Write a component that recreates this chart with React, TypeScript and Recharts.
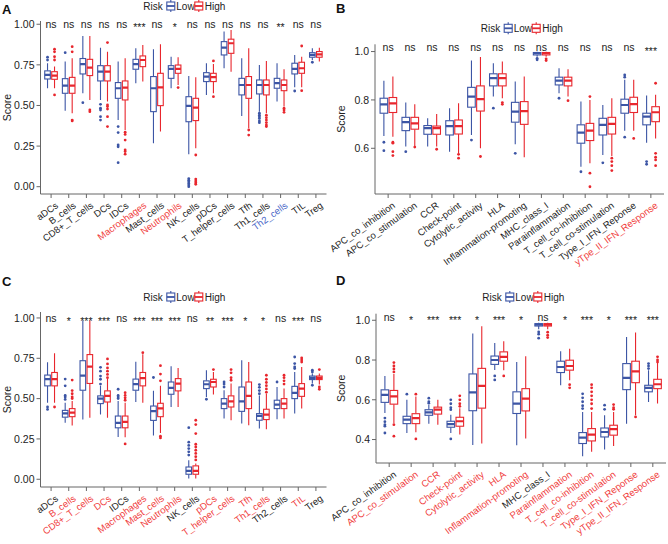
import React from "react";
import { ComposedChart, Bar, Scatter, XAxis, YAxis } from "recharts";

// box stats are [lower whisker, q1, median, q3, upper whisker]
const IMMUNE_CELLS = ["aDCs", "B_cells", "CD8+_T_cells", "DCs", "IDCs", "Macrophages", "Mast_cells", "Neutrophils", "NK_cells", "pDCs", "T_helper_cells", "Tfh", "Th1_cells", "Th2_cells", "TIL", "Treg"];
const IMMUNE_FUNCS = ["APC_co_inhibition", "APC_co_stimulation", "CCR", "Check-point", "Cytolytic_activity", "HLA", "Inflammation-promoting", "MHC_class_I", "Parainflammation", "T_cell_co-inhibition", "T_cell_co-stimulation", "Type_I_IFN_Reponse", "yTpe_II_IFN_Response"];

// ---- panel A ----
const A_LOW = [[0.606, 0.663, 0.688, 0.713, 0.76], [0.468, 0.575, 0.622, 0.665, 0.77], [0.575, 0.694, 0.754, 0.789, 0.928], [0.534, 0.651, 0.708, 0.745, 0.856], [0.41, 0.544, 0.606, 0.641, 0.77], [0.637, 0.723, 0.754, 0.784, 0.852], [0.267, 0.462, 0.606, 0.678, 0.846], [0.606, 0.667, 0.725, 0.745, 0.8], [0.199, 0.4, 0.497, 0.554, 0.682], [0.565, 0.647, 0.678, 0.702, 0.76], [0.729, 0.811, 0.856, 0.893, 0.955], [0.435, 0.565, 0.626, 0.667, 0.79], [0.462, 0.571, 0.626, 0.657, 0.749], [0.524, 0.606, 0.637, 0.667, 0.76], [0.612, 0.694, 0.725, 0.76, 0.811], [0.78, 0.797, 0.811, 0.825, 0.852]];
const A_HIGH = [[0.606, 0.661, 0.684, 0.708, 0.74], [0.452, 0.575, 0.622, 0.673, 0.79], [0.534, 0.684, 0.733, 0.784, 0.928], [0.524, 0.651, 0.708, 0.745, 0.83], [0.349, 0.534, 0.61, 0.651, 0.79], [0.647, 0.739, 0.78, 0.805, 0.873], [0.339, 0.499, 0.612, 0.698, 0.877], [0.626, 0.698, 0.725, 0.749, 0.797], [0.236, 0.407, 0.487, 0.544, 0.673], [0.575, 0.647, 0.674, 0.698, 0.755], [0.708, 0.821, 0.883, 0.908, 0.965], [0.359, 0.544, 0.626, 0.678, 0.852], [0.452, 0.565, 0.626, 0.657, 0.774], [0.493, 0.591, 0.626, 0.657, 0.723], [0.612, 0.698, 0.729, 0.766, 0.8], [0.77, 0.797, 0.815, 0.832, 0.856]];
const A_LOW_OUT = [[0.797, 0.78], [0.825], [0.517], [0.507, 0.483, 0.472, 0.431, 0.41], [0.37, 0.333, 0.257, 0.246, 0.148], [], [], [], [0.05, 0.04, 0.03, 0.02, 0.01, 0.0], [], [], [], [0.452, 0.44, 0.43, 0.42, 0.405, 0.394], [], [0.589], [0.766]];
const A_HIGH_OUT = [[0.846, 0.83, 0.8, 0.78, 0.565], [0.862, 0.83, 0.41, 0.405], [0.472, 0.462], [0.887, 0.503, 0.493, 0.478, 0.431, 0.37], [0.335, 0.322, 0.287, 0.226, 0.216, 0.2], [], [], [0.61], [0.195, 0.047, 0.035, 0.025, 0.015], [0.774, 0.554], [], [0.349, 0.318], [0.44, 0.425, 0.41, 0.395, 0.38, 0.37], [0.483, 0.472, 0.458], [0.866, 0.591], []];
const A_SIG = ["ns", "ns", "ns", "ns", "ns", "***", "ns", "*", "ns", "ns", "ns", "ns", "ns", "**", "ns", "ns"];
const A_UP = ["Macrophages", "Neutrophils"];
const A_DOWN = ["Th2_cells"];

// ---- panel B ----
const B_LOW = [[0.651, 0.745, 0.782, 0.807, 0.879], [0.607, 0.673, 0.708, 0.728, 0.789], [0.607, 0.658, 0.683, 0.694, 0.724], [0.586, 0.655, 0.692, 0.714, 0.766], [0.655, 0.77, 0.814, 0.852, 0.963], [0.814, 0.858, 0.89, 0.908, 0.952], [0.617, 0.708, 0.752, 0.79, 0.876], [0.979, 0.986, 0.993, 0.996, 0.999], [0.828, 0.862, 0.88, 0.894, 0.931], [0.524, 0.621, 0.665, 0.697, 0.793], [0.572, 0.655, 0.697, 0.724, 0.779], [0.673, 0.745, 0.779, 0.803, 0.883], [0.623, 0.697, 0.731, 0.745, 0.818]];
const B_HIGH = [[0.648, 0.748, 0.786, 0.81, 0.897], [0.607, 0.679, 0.703, 0.728, 0.782], [0.607, 0.658, 0.683, 0.692, 0.742], [0.579, 0.659, 0.692, 0.717, 0.786], [0.6, 0.754, 0.803, 0.858, 0.977], [0.807, 0.858, 0.89, 0.908, 0.959], [0.563, 0.699, 0.754, 0.793, 0.897], [0.979, 0.986, 0.993, 0.996, 0.999], [0.814, 0.858, 0.88, 0.894, 0.927], [0.538, 0.632, 0.673, 0.703, 0.8], [0.568, 0.659, 0.701, 0.728, 0.807], [0.673, 0.748, 0.783, 0.811, 0.883], [0.641, 0.71, 0.749, 0.772, 0.821]];
const B_LOW_OUT = [[0.625, 0.59], [0.586], [], [], [0.634], [0.766], [0.579], [0.972, 0.966], [0.807], [0.503], [0.54], [0.903, 0.894, 0.646], [0.545, 0.534]];
const B_HIGH_OUT = [[0.625, 0.621, 0.586, 0.57], [0.605], [0.596], [0.575, 0.559], [0.566], [0.789, 0.782], [], [0.97, 0.963], [0.797], [0.814, 0.497, 0.441], [0.559, 0.545, 0.528, 0.508], [0.641], [0.869, 0.579, 0.563, 0.552, 0.528]];
const B_SIG = ["ns", "ns", "ns", "ns", "ns", "ns", "ns", "ns", "ns", "ns", "ns", "ns", "***"];
const B_UP = ["yTpe_II_IFN_Response"];

// ---- panel C ----
const C_LOW = [[0.475, 0.579, 0.621, 0.646, 0.725], [0.35, 0.385, 0.408, 0.427, 0.475], [0.371, 0.552, 0.642, 0.735, 0.985], [0.402, 0.469, 0.5, 0.517, 0.579], [0.262, 0.319, 0.35, 0.392, 0.485], [0.479, 0.552, 0.59, 0.621, 0.729], [0.271, 0.365, 0.423, 0.454, 0.548], [0.448, 0.527, 0.566, 0.603, 0.7], [0.004, 0.031, 0.052, 0.076, 0.118], [0.51, 0.562, 0.589, 0.61, 0.676], [0.376, 0.438, 0.469, 0.5, 0.552], [0.345, 0.421, 0.483, 0.572, 0.738], [0.314, 0.366, 0.393, 0.407, 0.52], [0.372, 0.438, 0.463, 0.49, 0.572], [0.407, 0.5, 0.535, 0.576, 0.665], [0.593, 0.618, 0.628, 0.64, 0.655]];
const C_HIGH = [[0.475, 0.579, 0.621, 0.662, 0.781], [0.333, 0.388, 0.413, 0.438, 0.485], [0.381, 0.594, 0.698, 0.773, 0.985], [0.381, 0.479, 0.517, 0.548, 0.621], [0.26, 0.319, 0.356, 0.392, 0.475], [0.475, 0.579, 0.627, 0.662, 0.775], [0.287, 0.388, 0.44, 0.471, 0.579], [0.448, 0.548, 0.593, 0.624, 0.69], [0.004, 0.031, 0.052, 0.083, 0.097], [0.525, 0.572, 0.603, 0.62, 0.665], [0.366, 0.448, 0.483, 0.517, 0.593], [0.335, 0.438, 0.517, 0.603, 0.727], [0.31, 0.37, 0.401, 0.434, 0.531], [0.376, 0.438, 0.469, 0.5, 0.562], [0.438, 0.514, 0.562, 0.593, 0.696], [0.587, 0.618, 0.628, 0.64, 0.655]];
const C_LOW_OUT = [[0.448, 0.433], [0.621, 0.579, 0.52, 0.51, 0.495], [], [0.694, 0.67, 0.64, 0.62, 0.59], [0.558, 0.52, 0.51, 0.5], [], [0.631], [], [0.32, 0.23, 0.21, 0.19, 0.17, 0.15], [0.496], [0.603, 0.59, 0.572], [], [0.587, 0.57, 0.55, 0.53], [0.603], [0.758, 0.717, 0.696, 0.686], [0.676, 0.665, 0.583]];
const C_HIGH_OUT = [[0.448], [0.615, 0.55, 0.53, 0.51, 0.5], [], [0.746, 0.715, 0.69, 0.67, 0.65, 0.63], [0.537, 0.52, 0.505, 0.49, 0.219], [0.785], [0.704, 0.652, 0.61, 0.267, 0.256], [], [0.366, 0.339, 0.283, 0.217, 0.2, 0.18, 0.16, 0.14, 0.12], [0.68], [0.68, 0.66, 0.63, 0.614], [], [0.645, 0.62, 0.6, 0.58, 0.56, 0.54], [0.645, 0.63, 0.61, 0.59], [0.752, 0.74, 0.727], [0.68, 0.572, 0.558]];
const C_SIG = ["ns", "*", "***", "***", "ns", "***", "***", "***", "ns", "**", "***", "*", "*", "ns", "***", "ns"];
const C_UP = ["B_cells", "CD8+_T_cells", "DCs", "Macrophages", "Mast_cells", "Neutrophils", "pDCs", "T_helper_cells", "Tfh", "Th1_cells", "TIL"];

// ---- panel D ----
const D_LOW = [[0.533, 0.587, 0.625, 0.65, 0.72], [0.433, 0.48, 0.5, 0.517, 0.6], [0.48, 0.522, 0.537, 0.55, 0.575], [0.433, 0.462, 0.478, 0.492, 0.525], [0.372, 0.545, 0.637, 0.73, 0.933], [0.75, 0.778, 0.8, 0.82, 0.886], [0.371, 0.531, 0.581, 0.64, 0.79], [0.955, 0.971, 0.978, 0.983, 0.987], [0.673, 0.737, 0.765, 0.794, 0.844], [0.316, 0.38, 0.41, 0.435, 0.539], [0.35, 0.413, 0.438, 0.458, 0.522], [0.48, 0.651, 0.71, 0.782, 0.916], [0.589, 0.64, 0.66, 0.673, 0.749]];
const D_HIGH = [[0.483, 0.578, 0.617, 0.647, 0.73], [0.437, 0.48, 0.508, 0.53, 0.617], [0.475, 0.528, 0.55, 0.563, 0.6], [0.425, 0.467, 0.492, 0.512, 0.558], [0.38, 0.558, 0.67, 0.758, 0.97], [0.749, 0.794, 0.816, 0.841, 0.894], [0.405, 0.544, 0.606, 0.656, 0.819], [0.955, 0.971, 0.978, 0.983, 0.987], [0.698, 0.749, 0.77, 0.799, 0.857], [0.338, 0.393, 0.425, 0.455, 0.539], [0.368, 0.422, 0.452, 0.472, 0.539], [0.522, 0.686, 0.743, 0.794, 0.938], [0.581, 0.656, 0.678, 0.703, 0.79]];
const D_LOW_OUT = [[0.508, 0.49, 0.475, 0.467, 0.433], [0.628], [0.608, 0.59, 0.583], [0.6, 0.58, 0.56, 0.55, 0.403], [], [0.72, 0.7], [], [0.941, 0.93, 0.91], [], [0.63, 0.61, 0.59, 0.57, 0.556], [0.573, 0.552], [], [0.782, 0.77, 0.757]];
const D_HIGH_OUT = [[0.787, 0.77, 0.755, 0.74, 0.475, 0.417], [0.628, 0.403], [], [0.62, 0.6, 0.58, 0.567], [], [0.72], [], [0.94, 0.925, 0.913], [0.676, 0.66], [0.676, 0.66, 0.64, 0.62, 0.6, 0.58, 0.556], [0.576, 0.56, 0.552], [0.514], [0.816, 0.8, 0.79]];
const D_SIG = ["ns", "*", "***", "***", "*", "***", "*", "ns", "*", "***", "*", "***", "***"];
const D_UP = IMMUNE_FUNCS.filter((c) => c !== "APC_co_inhibition" && c !== "MHC_class_I");

const BLUE = "#3C55A5";
const RED = "#E8262D";
const LABEL_RED = "#F03C3C";
const LABEL_BLUE = "#4A67C8";
const AXIS = "#666";
const TXT = "#222";
const FONT = '"Liberation Sans", Arial, sans-serif';

const boxShape = (color: string, key: "low" | "high") => (props: any) => {
  const { x, y, width, height, payload } = props;
  const s: number[] = payload[key];
  const outs: number[] = payload[key + "Out"] || [];
  const top = Math.min(y, y + height);
  const bot = Math.max(y, y + height);
  const py = (v: number) => bot - ((v - s[0]) / (s[4] - s[0])) * (bot - top);
  const cx = x + width / 2;
  const w = width - 1.4;
  const l = cx - w / 2;
  return (
    <g>
      <line x1={cx} x2={cx} y1={py(s[4])} y2={py(s[3])} stroke={color} strokeWidth={1.1} />
      <line x1={cx} x2={cx} y1={py(s[1])} y2={py(s[0])} stroke={color} strokeWidth={1.1} />
      <rect x={l} y={py(s[3])} width={w} height={Math.max(py(s[1]) - py(s[3]), 0.5)} fill="#fff" stroke={color} strokeWidth={1.1} />
      <line x1={l} x2={l + w} y1={py(s[2])} y2={py(s[2])} stroke={color} strokeWidth={2.2} />
      {outs.map((v, i) => (
        <circle key={i} cx={cx} cy={py(v)} r={1.4} fill={color} />
      ))}
    </g>
  );
};

const sigShape = (props: any) => {
  const { cx, cy, payload } = props;
  const star = payload.sig !== "ns";
  return (
    <text x={cx} y={cy + (star ? 3.2 : 0)} textAnchor="middle" dominantBaseline="central" fontSize={10.5} fontFamily={FONT} fill={TXT}>
      {payload.sig}
    </text>
  );
};

function RiskLegend({ x, y }: { x: number; y: number }) {
  const key = (kx: number, color: string) => (
    <g>
      <line x1={kx + 4} x2={kx + 4} y1={y - 6} y2={y + 6} stroke={color} strokeWidth={1.1} />
      <rect x={kx} y={y - 4} width={8} height={8} fill="#fff" stroke={color} strokeWidth={1.1} />
      <line x1={kx} x2={kx + 8} y1={y} y2={y} stroke={color} strokeWidth={1.8} />
    </g>
  );
  const t = (tx: number, s: string) => (
    <text x={tx} y={y} dominantBaseline="central" fontSize={10} fontFamily={FONT} fill={TXT}>
      {s}
    </text>
  );
  return (
    <g>
      {t(x, "Risk")}
      {key(x + 23.5, BLUE)}
      {t(x + 33, "Low")}
      {key(x + 51.5, RED)}
      {t(x + 61.5, "High")}
    </g>
  );
}

type PanelProps = {
  title: string;
  left: number;
  top: number;
  cats: string[];
  low: number[][];
  high: number[][];
  lowOut: number[][];
  highOut: number[][];
  sig: string[];
  sigY: number;
  up: string[];
  down?: string[];
  domain: [number, number];
  ticks: number[];
  digits: number;
  plot: { l: number; r: number; t: number; b: number };
  legendX: number;
  legendY: number;
};

function Panel(p: PanelProps) {
  const W = 334;
  const H = 272;
  const rows = p.cats.map((c, i) => ({
    cat: c,
    low: p.low[i],
    high: p.high[i],
    lowOut: p.lowOut[i],
    highOut: p.highOut[i],
    sig: p.sig[i],
    sigY: p.sigY,
  }));
  const plotW = p.plot.r - p.plot.l;
  const pad = (plotW / (p.cats.length + 0.2)) * 0.1;
  const down = p.down || [];
  const catTick = (props: any) => {
    const { x, y, payload } = props;
    const label = payload.value;
    const color = p.up.includes(label) ? LABEL_RED : down.includes(label) ? LABEL_BLUE : TXT;
    const ax = x + 3.5;
    const ay = y + 3;
    return (
      <text x={ax} y={ay} transform={`rotate(-36 ${ax} ${ay})`} textAnchor="end" dominantBaseline="hanging" fontSize={9.5} fontFamily={FONT} fill={color}>
        {label}
      </text>
    );
  };
  const scoreLabel = (props: any) => {
    const vb = props.viewBox;
    const lx = 7;
    const ly = vb.y + vb.height / 2;
    return (
      <text x={lx} y={ly} transform={`rotate(-90 ${lx} ${ly})`} textAnchor="middle" dominantBaseline="central" fontSize={10.5} fontFamily={FONT} fill={TXT}>
        Score
      </text>
    );
  };
  return (
    <div style={{ position: "absolute", left: p.left, top: p.top, width: W, height: H }}>
      <ComposedChart
        width={W}
        height={H}
        data={rows}
        margin={{ top: p.plot.t - p.top, right: p.left + W - p.plot.r, bottom: 0, left: 0 }}
        barCategoryGap="10%"
        barGap={0}
        style={{ overflow: "visible" }}
      >
        <XAxis
          dataKey="cat"
          interval={0}
          height={p.top + H - p.plot.b}
          padding={{ left: pad, right: pad }}
          tick={catTick}
          tickSize={4}
          tickMargin={0}
          stroke={AXIS}
        />
        <YAxis
          type="number"
          domain={p.domain}
          allowDataOverflow
          ticks={p.ticks}
          width={p.plot.l - p.left}
          tickFormatter={(v: number) => v.toFixed(p.digits)}
          tick={{ fontSize: 10.5, fontFamily: FONT, fill: TXT }}
          tickSize={4}
          tickMargin={2}
          stroke={AXIS}
          label={{ position: "center", content: scoreLabel }}
        />
        <Bar dataKey={(d: any) => [d.low[0], d.low[4]]} shape={boxShape(BLUE, "low")} isAnimationActive={false} />
        <Bar dataKey={(d: any) => [d.high[0], d.high[4]]} shape={boxShape(RED, "high")} isAnimationActive={false} />
        <Scatter dataKey="sigY" shape={sigShape} isAnimationActive={false} />
        <text x={2} y={p.left === 0 ? 9 : 8} dominantBaseline="central" fontSize={13} fontWeight="bold" fontFamily={FONT} fill="#111">
          {p.title}
        </text>
        <RiskLegend x={p.legendX - p.left} y={p.legendY - p.top} />
      </ComposedChart>
    </div>
  );
}

export default function App() {
  return (
    <div style={{ position: "absolute", left: 0, top: 0, width: 668, height: 544, background: "#fff" }}>
      <style>{".recharts-wrapper, .recharts-surface { overflow: visible !important; }"}</style>
      <Panel
        title="A" left={0} top={0} cats={IMMUNE_CELLS}
        low={A_LOW} high={A_HIGH} lowOut={A_LOW_OUT} highOut={A_HIGH_OUT}
        sig={A_SIG} sigY={1.0} up={A_UP} down={A_DOWN}
        domain={[-0.045, 1.02]} ticks={[0, 0.25, 0.5, 0.75, 1]} digits={2}
        plot={{ l: 40.5, r: 326.5, t: 21, b: 194 }} legendX={143.3} legendY={6}
      />
      <Panel
        title="B" left={334} top={0} cats={IMMUNE_FUNCS}
        low={B_LOW} high={B_HIGH} lowOut={B_LOW_OUT} highOut={B_HIGH_OUT}
        sig={B_SIG} sigY={1.017} up={B_UP}
        domain={[0.411, 1.03]} ticks={[0.6, 0.8, 1.0]} digits={1}
        plot={{ l: 375, r: 664, t: 44.3, b: 194 }} legendX={480.7} legendY={28.3}
      />
      <Panel
        title="C" left={0} top={272} cats={IMMUNE_CELLS}
        low={C_LOW} high={C_HIGH} lowOut={C_LOW_OUT} highOut={C_HIGH_OUT}
        sig={C_SIG} sigY={1.0} up={C_UP}
        domain={[-0.048, 1.037]} ticks={[0, 0.25, 0.5, 0.75, 1]} digits={2}
        plot={{ l: 40.5, r: 326.5, t: 312, b: 487 }} legendX={143.3} legendY={297}
      />
      <Panel
        title="D" left={334} top={272} cats={IMMUNE_FUNCS}
        low={D_LOW} high={D_HIGH} lowOut={D_LOW_OUT} highOut={D_HIGH_OUT}
        sig={D_SIG} sigY={1.017} up={D_UP}
        domain={[0.282, 1.033]} ticks={[0.4, 0.6, 0.8, 1.0]} digits={1}
        plot={{ l: 376, r: 666, t: 313.7, b: 463 }} legendX={482.3} legendY={297}
      />
    </div>
  );
}
